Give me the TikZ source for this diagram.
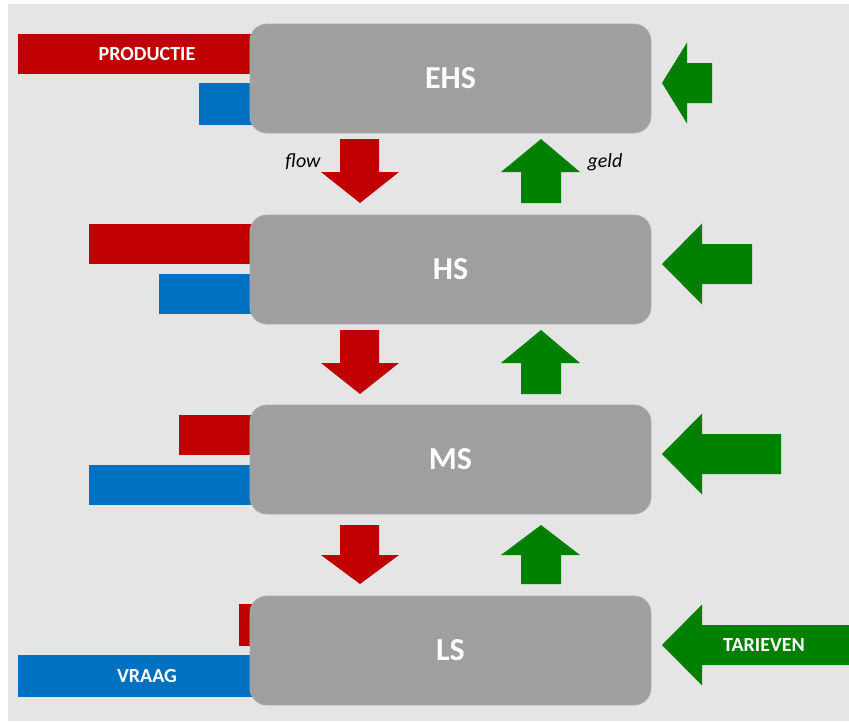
\documentclass[tikz,border=0pt]{standalone}
\usepackage{fontspec}
\setmainfont{Carlito}
\definecolor{rood}{HTML}{C00000}
\definecolor{blauw}{HTML}{0070C0}
\definecolor{groen}{HTML}{008000}
\definecolor{doos}{HTML}{9F9F9F}
\definecolor{achter}{HTML}{E5E5E5}

% arrow to the left: centre y, head base x, tail x
\newcommand{\pijllinks}[3]{%
  \fill[groen] (662,#1) -- (#2,{#1-40.5}) -- (#2,{#1-20}) -- (#3,{#1-20})
    -- (#3,{#1+20}) -- (#2,{#1+20}) -- (#2,{#1+40.5}) -- cycle;}

\begin{document}
\begin{tikzpicture}[x=1pt,y=-1pt,
    box/.style={fill=doos, draw=doos!85!white, line width=0.8pt, rounded corners=17pt,
      minimum width=401pt, minimum height=109pt, inner sep=0pt,
      text=white, font=\fontsize{32}{36}\selectfont\bfseries},
    lbl/.style={text=white, inner sep=0pt, font=\fontsize{20}{24}\selectfont\bfseries},
    klein/.style={inner sep=0pt, font=\fontsize{20}{24}\selectfont\itshape}
  ]
\useasboundingbox (0,0) rectangle (849,721);
\fill[achter] (8,4) rectangle (849,721);

% bars
\fill[rood] (18,34) rectangle (280,74);
\fill[blauw] (199,83) rectangle (280,125);
\fill[rood] (89,224) rectangle (280,264);
\fill[blauw] (159,274) rectangle (280,314);
\fill[rood] (179,415) rectangle (280,455);
\fill[blauw] (89,465) rectangle (280,505);
\fill[rood] (239,604) rectangle (280,646);
\fill[blauw] (18,655) rectangle (280,697);
\node[lbl] (productie) at (147,54) {PRODUCTIE};
\node[lbl] (vraag) at (147,676) {VRAAG};

% levels
\node[box] (ehs) at (450.5,78.5) {EHS};
\node[box] (hs) at (450.5,269.5) {HS};
\node[box] (ms) at (450.5,459.5) {MS};
\node[box] (ls) at (450.5,650.5) {LS};

% flow down, geld up
\foreach \t/\m/\b in {139/172/203, 330/363/394, 525/555/584}{
  \fill[rood] (340,\t) -- (379,\t) -- (379,\m) -- (399,\m) -- (360,\b)
    -- (321,\m) -- (340,\m) -- cycle;
  \fill[groen] (521,\b) -- (561,\b) -- (561,\m) -- (580,\m) -- (541,\t)
    -- (501,\m) -- (521,\m) -- cycle;
}
\node[klein] (flow) at (303,162) {flow};
\node[klein] (geld) at (605,162) {geld};

% tarieven
\pijllinks{83}{687}{712}
\pijllinks{264}{702}{752}
\pijllinks{454}{702}{781}
\pijllinks{645}{702}{860}
\node[lbl] (tarieven) at (764,645) {TARIEVEN};
\end{tikzpicture}
\end{document}
